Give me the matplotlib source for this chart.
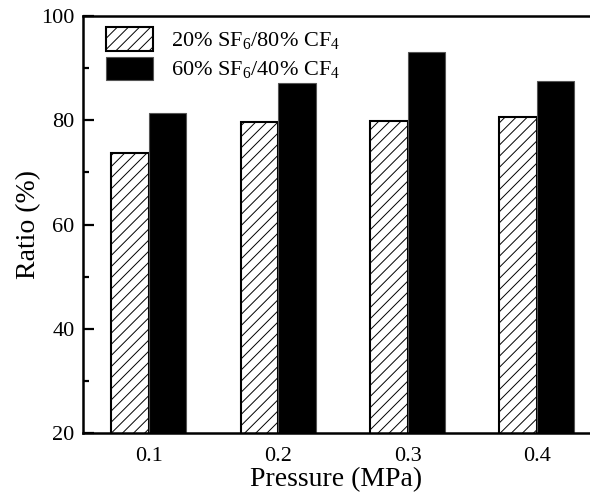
"""
Ratio vs pressure, two SF6/CF4 mixtures.
"""

import matplotlib
matplotlib.use('Agg')
import matplotlib.pyplot as plt
import numpy as np
from matplotlib.ticker import MultipleLocator

plt.rcParams['font.family'] = 'Liberation Serif'
plt.rcParams['mathtext.fontset'] = 'custom'
plt.rcParams['mathtext.rm'] = 'Liberation Serif'
plt.rcParams['hatch.linewidth'] = 0.7

pressures = ['0.1', '0.2', '0.3', '0.4']
ratio_20sf6 = [73.8, 79.6, 79.8, 80.6]
ratio_60sf6 = [81.3, 87.2, 93.0, 87.6]
labels = [r'20% SF$_\mathregular{6}$/80% CF$_\mathregular{4}$',
          r'60% SF$_\mathregular{6}$/40% CF$_\mathregular{4}$']

fig = plt.figure(figsize=(5.9, 4.98), dpi=100)
ax = fig.add_axes([83 / 590, 1 - 433 / 498, 1 - 83 / 590, 417 / 498])

x = np.arange(1, len(pressures) + 1)
w = 0.29

ax.bar(x - w / 2, ratio_20sf6, w, color='white', edgecolor='black',
       linewidth=1.5, hatch='///', label=labels[0], zorder=2)
ax.bar(x + w / 2, ratio_60sf6, w, color='black', edgecolor='#555555',
       linewidth=0.8, label=labels[1], zorder=2)

ax.set_xlim(0.49, 4.41)
ax.set_ylim(20, 100)
ax.set_xticks(x)
ax.set_xticklabels(pressures)
ax.yaxis.set_major_locator(MultipleLocator(20))
ax.yaxis.set_minor_locator(MultipleLocator(10))
ax.tick_params(axis='x', length=0, labelsize=16, pad=10)
ax.tick_params(axis='y', which='major', direction='in', length=8, width=1.6,
               labelsize=16, pad=6)
ax.tick_params(axis='y', which='minor', direction='in', length=4, width=1.6)

for side in ['left', 'top', 'bottom']:
    ax.spines[side].set_linewidth(1.8)
ax.spines['right'].set_visible(False)

ax.set_xlabel('Pressure (MPa)', fontsize=20, labelpad=1)
ax.set_ylabel('Ratio (%)', fontsize=20, labelpad=0)

ax.legend(loc='upper left', frameon=False, fontsize=16,
          handlelength=2.1, handleheight=1.25, handletextpad=0.8,
          labelspacing=0.2, borderaxespad=0.3, bbox_to_anchor=(0.015, 1.01))

plt.savefig('out.png', dpi=100)
plt.close()
